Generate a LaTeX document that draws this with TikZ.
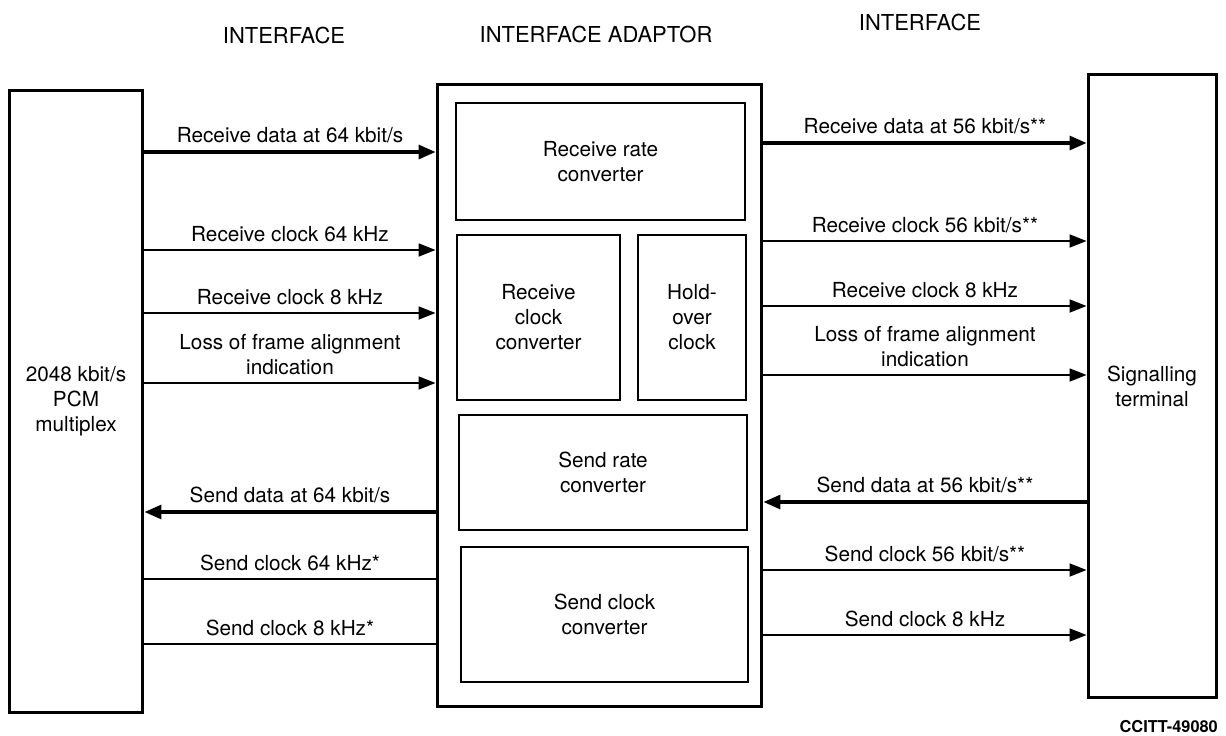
\documentclass[tikz,border=0pt]{standalone}
\usepackage{fontspec}
\setmainfont{TeX Gyre Heros}
\usetikzlibrary{positioning, arrows.meta}

\tikzset{
  unit/.style={draw, line width=1.7pt, inner sep=0pt, align=center},
  part/.style={draw, line width=1.1pt, inner sep=0pt, align=center},
  sig/.style={line width=1pt},
  sigarrow/.style={sig, -{Triangle[length=0.34cm,width=0.26cm]}},
  dataarrow/.style={line width=1.8pt, -{Triangle[length=0.34cm,width=0.28cm]}},
  lbl/.style={midway, anchor=south, inner sep=0pt, text depth=0pt, yshift=0.15cm, align=center},
  head/.style={font=\fontsize{12.5}{15}\selectfont}
}

\begin{document}
\begin{tikzpicture}[x=0.02cm, y=-0.02cm, font=\fontsize{11.8}{14.2}\selectfont]
\useasboundingbox (0,0) rectangle (1226,735);

% Headings
\node[head] (hleft) at (284,35) {INTERFACE};
\node[head] (hmid) at (596,34) {INTERFACE ADAPTOR};
\node[head] (hright) at (920,22) {INTERFACE};

% PCM multiplex and signalling terminal
\node[unit, minimum width=2.68cm, minimum height=12.46cm] (mux) at (76,401.5) {2048 kbit/s\\PCM\\multiplex};
\node[unit, minimum width=2.56cm, minimum height=12.48cm] (term) at (1152,386) {Signalling\\terminal};

% Interface adaptor with its parts
\node[unit, minimum width=6.5cm, minimum height=12.46cm] (adaptor) at (599.5,395.5) {};
\node[part, minimum width=5.78cm, minimum height=2.34cm] (rxrate) at (600.5,161.5) {Receive rate\\converter};
\node[part, minimum width=3.26cm, minimum height=3.3cm] (rxclock) at (538.5,317.5) {Receive\\clock\\converter};
\node[part, minimum width=2.16cm, minimum height=3.3cm] (holdover) at (692,317.5) {Hold-\\over\\clock};
\node[part, minimum width=5.76cm, minimum height=2.3cm] (txrate) at (603,472.5) {Send rate\\converter};
\node[part, minimum width=5.74cm, minimum height=2.7cm] (txclock) at (604.5,614.5) {Send clock\\converter};

% Multiplex side
\draw[dataarrow] (mux.east |- 0,152) -- node[lbl] {Receive data at 64 kbit/s} (adaptor.west |- 0,152);
\draw[sigarrow] (mux.east |- 0,250) -- node[lbl] {Receive clock 64 kHz} (adaptor.west |- 0,250);
\draw[sigarrow] (mux.east |- 0,313) -- node[lbl] {Receive clock 8 kHz} (adaptor.west |- 0,313);
\draw[sigarrow] (mux.east |- 0,383) -- node[lbl] {Loss of frame alignment\\indication} (adaptor.west |- 0,383);
\draw[dataarrow] (adaptor.west |- 0,512) -- node[lbl] {Send data at 64 kbit/s} (mux.east |- 0,512);
\draw[sig] (mux.east |- 0,579) -- node[lbl] {Send clock 64 kHz*} (adaptor.west |- 0,579);
\draw[sig] (mux.east |- 0,644) -- node[lbl] {Send clock 8 kHz*} (adaptor.west |- 0,644);

% Terminal side
\draw[dataarrow] (adaptor.east |- 0,143) -- node[lbl] {Receive data at 56 kbit/s**} (term.west |- 0,143);
\draw[sigarrow] (adaptor.east |- 0,241) -- node[lbl] {Receive clock 56 kbit/s**} (term.west |- 0,241);
\draw[sigarrow] (adaptor.east |- 0,306) -- node[lbl] {Receive clock 8 kHz} (term.west |- 0,306);
\draw[sigarrow] (adaptor.east |- 0,375) -- node[lbl] {Loss of frame alignment\\indication} (term.west |- 0,375);
\draw[dataarrow] (term.west |- 0,502) -- node[lbl] {Send data at 56 kbit/s**} (adaptor.east |- 0,502);
\draw[sigarrow] (adaptor.east |- 0,570) -- node[lbl] {Send clock 56 kbit/s**} (term.west |- 0,570);
\draw[sigarrow] (adaptor.east |- 0,635) -- node[lbl] {Send clock 8 kHz} (term.west |- 0,635);

\node[font=\fontsize{9.3}{11}\selectfont\bfseries, anchor=east] (fig) at (1224,727) {CCITT-49080};
\end{tikzpicture}
\end{document}
